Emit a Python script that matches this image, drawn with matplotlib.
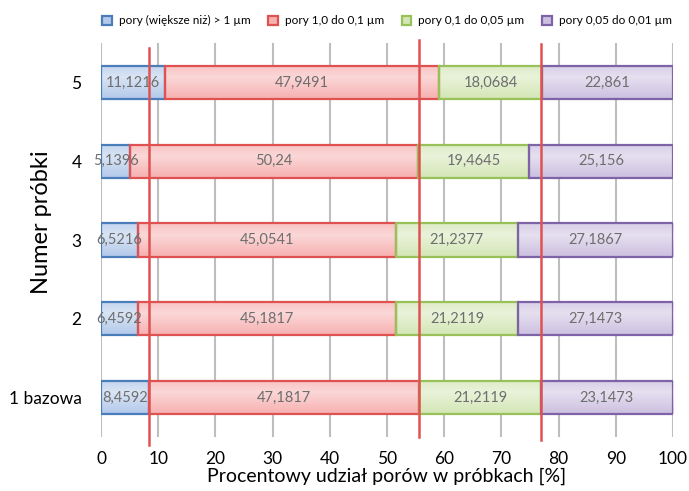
import numpy as np
import matplotlib
matplotlib.use("Agg")
import matplotlib.pyplot as plt
from matplotlib.colors import to_rgb
from matplotlib.patches import Patch

plt.rcParams['font.family'] = ['Lato', 'DejaVu Sans']

# data
samples = ['1 bazowa', '2', '3', '4', '5']
series = ['pory (większe niż) > 1 µm', 'pory 1,0 do 0,1 µm',
          'pory 0,1 do 0,05 µm', 'pory 0,05 do 0,01 µm']
big = [8.4592, 6.4592, 6.5216, 5.1396, 11.1216]
mid1 = [47.1817, 45.1817, 45.0541, 50.24, 47.9491]
mid2 = [21.2119, 21.2119, 21.2377, 19.4645, 18.0684]
small = [23.1473, 27.1473, 27.1867, 25.156, 22.861]
labels = [['8,4592', '6,4592', '6,5216', '5,1396', '11,1216'],
          ['47,1817', '45,1817', '45,0541', '50,24', '47,9491'],
          ['21,2119', '21,2119', '21,2377', '19,4645', '18,0684'],
          ['23,1473', '27,1473', '27,1867', '25,156', '22,861']]

edges = ['#4A7EBB', '#E05252', '#98C15A', '#7E63A8']
fills = ['#B3C9EA', '#F7B0B0', '#D3E6B5', '#CCC0E0']

fig = plt.figure(figsize=(6.89, 4.91), dpi=100)
ax = fig.add_axes([0.1466, 0.110, 0.8302, 0.8024])

y = np.arange(len(samples))
left = np.zeros(len(samples))
grad = np.linspace(0, 1, 64).reshape(-1, 1)
for k, vals in enumerate([big, mid1, mid2, small]):
    bars = ax.barh(y, vals, left=left, height=0.42, color=fills[k],
                   edgecolor=edges[k], linewidth=1.6, zorder=3)
    base = np.array(to_rgb(fills[k]))
    # vertical gradient: lighter in the upper middle
    light = 0.5 * (1 - np.abs(grad - 0.35) / 0.65)
    img = base + (1 - base) * light
    img = np.clip(img, 0, 1).reshape(64, 1, 3)
    for b in bars:
        x0, y0, w, h = b.get_x(), b.get_y(), b.get_width(), b.get_height()
        im = ax.imshow(img, extent=[x0, x0 + w, y0, y0 + h], aspect='auto',
                       zorder=2.5, origin='upper')
        im.set_clip_path(b)
        b.set_facecolor('none')
    for i, b in enumerate(bars):
        ax.text(left[i] + vals[i] / 2, y[i], labels[k][i], ha='center', va='center',
                fontsize=10.5, color='#6E6E6E', zorder=4)
    left = left + np.array(vals)

# reference lines at cumulative values of the base sample
ref = np.cumsum([big[0], mid1[0], mid2[0]])
ax.axvline(ref[0], ymin=-0.02, ymax=0.987, color='#E05252', lw=1.8, clip_on=False, zorder=5)
ax.axvline(ref[1], ymin=0.0, ymax=1.008, color='#E05252', lw=1.8, clip_on=False, zorder=5)
ax.axvline(ref[2], ymin=-0.008, ymax=0.997, color='#E05252', lw=1.8, clip_on=False, zorder=5)

ax.set_xlim(0, 100)
ax.set_ylim(-0.5, 4.5)
ax.set_xticks(range(0, 101, 10))
ax.set_yticks(y)
ax.set_yticklabels(samples)
ax.tick_params(axis='both', length=0, labelsize=12.5)
ax.tick_params(axis='y', pad=14)
ax.tick_params(axis='x', pad=10)
ax.grid(axis='x', color='#BEBEBE', lw=1.5, zorder=0)
ax.set_axisbelow(True)
for s in ax.spines.values():
    s.set_visible(False)

ax.set_xlabel('Procentowy udział porów w próbkach [%]', fontsize=14)
ax.xaxis.set_label_coords(0.5, -0.077)
ax.set_ylabel('Numer próbki', fontsize=17)
ax.yaxis.set_label_coords(-0.086, 0.546)

handles = [Patch(facecolor=fills[k], edgecolor=edges[k], linewidth=1.6, label=series[k])
           for k in range(4)]
leg = ax.legend(handles=handles, loc='lower center', bbox_to_anchor=(0.5, 1.03), ncol=4,
                frameon=False, fontsize=8.5, handlelength=0.8, handleheight=0.8,
                handletextpad=0.6, columnspacing=1.5, borderaxespad=0)

fig.savefig('out.png', dpi=100)
